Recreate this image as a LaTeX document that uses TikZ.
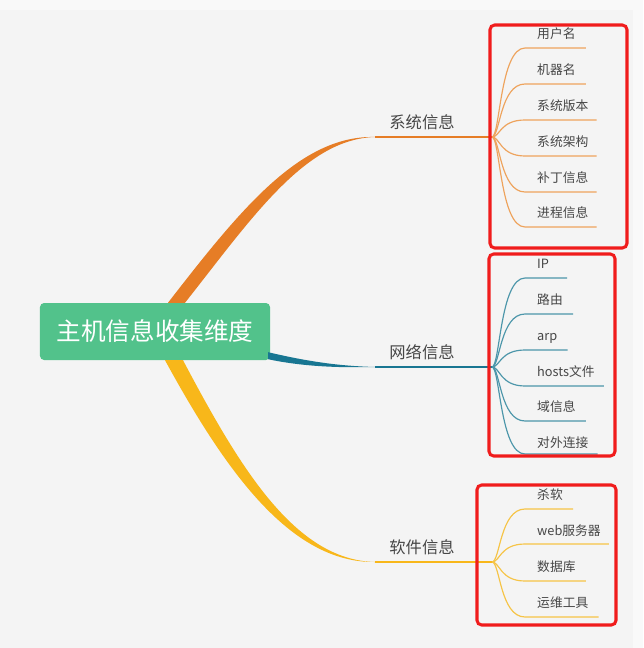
\documentclass[tikz,border=0pt]{standalone}
\usepackage{fontspec}
\setmainfont{Noto Sans CJK SC}
\usetikzlibrary{calc}
\definecolor{bggray}{RGB}{244,244,244}
\definecolor{edgegray}{RGB}{249,249,249}
\definecolor{rootgreen}{RGB}{82,194,139}
\definecolor{sysorange}{RGB}{230,125,38}
\definecolor{sysleafc}{RGB}{238,163,92}
\definecolor{netblue}{RGB}{24,118,146}
\definecolor{netleafc}{RGB}{76,150,170}
\definecolor{softyellow}{RGB}{248,183,26}
\definecolor{softleafc}{RGB}{246,196,70}
\definecolor{markred}{RGB}{240,28,28}
\definecolor{labelgray}{RGB}{70,70,70}

\begin{document}
\begin{tikzpicture}[x=0.03cm,y=-0.03cm,
  rootbox/.style={fill=rootgreen,rounded corners=3.5pt,minimum width=6.9cm,minimum height=1.71cm,
    text=white,font=\fontsize{21}{24}\selectfont},
  branch/.style={font=\fontsize{13.9}{16}\selectfont,text=labelgray,inner sep=0pt},
  leaf/.style={anchor=west,font=\fontsize{10.9}{13}\selectfont,text=labelgray,inner sep=0pt,
    text height=0.88em,text depth=0.12em},
  stem/.style={line width=1.4pt},
  twig/.style={line width=1pt},
  redframe/.style={draw=markred,line width=2.6pt,rounded corners=4pt}
]
\path[use as bounding box,fill=bggray] (0,0) rectangle (643,648);
\fill[edgegray] (0,0) rectangle (643,10);
\fill[edgegray] (633,0) rectangle (643,648);

% root and main branches
\node[rootbox] (root) at (155,331.5) {主机信息收集维度};
\coordinate (sysjoin) at (375,137);
\coordinate (syshub) at (492,137);
\coordinate (netjoin) at (375,367);
\coordinate (nethub) at (492,367);
\coordinate (softjoin) at (375,562);
\coordinate (softhub) at (492,562);
\node[branch] (sys) at (422,122) {系统信息};
\node[branch] (net) at (422,352) {网络信息};
\node[branch] (soft) at (422,547) {软件信息};

\fill[sysorange] ($(root.north)+(13,0)$) .. controls (240,210) and (300,135) .. (sysjoin)
  .. controls (305,139) and (252,218) .. ($(root.north)+(30,0)$) -- cycle;
\fill[netblue] ($(root.south east)+(-2,-8)$) .. controls (310,362) and (340,366) .. (netjoin)
  .. controls (335,368) and (300,366) .. ($(root.south east)+(-2,-1)$) -- cycle;
\fill[softyellow] ($(root.south)+(10,0)$) .. controls (225,470) and (290,563) .. (softjoin)
  .. controls (295,560) and (240,468) .. ($(root.south)+(28,0)$) -- cycle;
\draw[stem,sysorange] (sysjoin) -- (syshub);
\draw[stem,netblue] (netjoin) -- (nethub);
\draw[stem,softyellow] (softjoin) -- (softhub);

% system leaves
\node[leaf] (user) at (537,34) {用户名};
\node[leaf] (host) at (537,70) {机器名};
\node[leaf] (osver) at (537,106) {系统版本};
\node[leaf] (arch) at (537,142) {系统架构};
\node[leaf] (patch) at (537,178) {补丁信息};
\node[leaf] (proc) at (537,213) {进程信息};
\draw[twig,sysleafc] (syshub) .. controls +(8,0) and +(-25,0) .. ($(user.west)+(-12,14)$) -- ($(user.east)+(10,14)$);
\draw[twig,sysleafc] (syshub) .. controls +(8,0) and +(-25,0) .. ($(host.west)+(-12,14)$) -- ($(host.east)+(10,14)$);
\draw[twig,sysleafc] (syshub) .. controls +(8,0) and +(-25,0) .. ($(osver.west)+(-12,14)$) -- ($(osver.east)+(8,14)$);
\draw[twig,sysleafc] (syshub) .. controls +(8,0) and +(-25,0) .. ($(arch.west)+(-12,14)$) -- ($(arch.east)+(8,14)$);
\draw[twig,sysleafc] (syshub) .. controls +(8,0) and +(-25,0) .. ($(patch.west)+(-12,14)$) -- ($(patch.east)+(8,14)$);
\draw[twig,sysleafc] (syshub) .. controls +(8,0) and +(-25,0) .. ($(proc.west)+(-12,14)$) -- ($(proc.east)+(8,14)$);

% network leaves
\node[leaf] (ip) at (537,264) {IP};
\node[leaf] (route) at (537,300) {路由};
\node[leaf] (arp) at (537,336) {arp};
\node[leaf] (hosts) at (537,372) {hosts文件};
\node[leaf] (domain) at (537,407) {域信息};
\node[leaf] (outlink) at (537,443) {对外连接};
\draw[twig,netleafc] (nethub) .. controls +(8,0) and +(-25,0) .. ($(ip.west)+(-12,14)$) -- ($(ip.west)+(30,14)$);
\draw[twig,netleafc] (nethub) .. controls +(8,0) and +(-25,0) .. ($(route.west)+(-12,14)$) -- ($(route.east)+(10,14)$);
\draw[twig,netleafc] (nethub) .. controls +(8,0) and +(-25,0) .. ($(arp.west)+(-12,14)$) -- ($(arp.east)+(10,14)$);
\draw[twig,netleafc] (nethub) .. controls +(8,0) and +(-25,0) .. ($(hosts.west)+(-12,14)$) -- ($(hosts.east)+(9,14)$);
\draw[twig,netleafc] (nethub) .. controls +(8,0) and +(-25,0) .. ($(domain.west)+(-12,14)$) -- ($(domain.east)+(10,14)$);
\draw[twig,netleafc] (nethub) .. controls +(8,0) and +(-25,0) .. ($(outlink.west)+(-12,11)$) -- ($(outlink.east)+(9,11)$);

% software leaves
\node[leaf] (antivir) at (537,495) {杀软};
\node[leaf] (websrv) at (537,531) {web服务器};
\node[leaf] (dbase) at (537,567) {数据库};
\node[leaf] (ops) at (537,603) {运维工具};
\draw[twig,softleafc] (softhub) .. controls +(8,0) and +(-25,0) .. ($(antivir.west)+(-12,14)$) -- ($(antivir.east)+(10,14)$);
\draw[twig,softleafc] (softhub) .. controls +(8,0) and +(-25,0) .. ($(websrv.west)+(-12,13)$) -- ($(websrv.east)+(8,13)$);
\draw[twig,softleafc] (softhub) .. controls +(8,0) and +(-25,0) .. ($(dbase.west)+(-12,14)$) -- ($(dbase.east)+(10,14)$);
\draw[twig,softleafc] (softhub) .. controls +(8,0) and +(-25,0) .. ($(ops.west)+(-12,14)$) -- ($(ops.east)+(10,14)$);

% highlight frames
\draw[redframe] (490,25) rectangle (627,248);
\draw[redframe] (489,254) rectangle (615,456);
\draw[redframe] (477,485) rectangle (616,625);
\end{tikzpicture}
\end{document}
